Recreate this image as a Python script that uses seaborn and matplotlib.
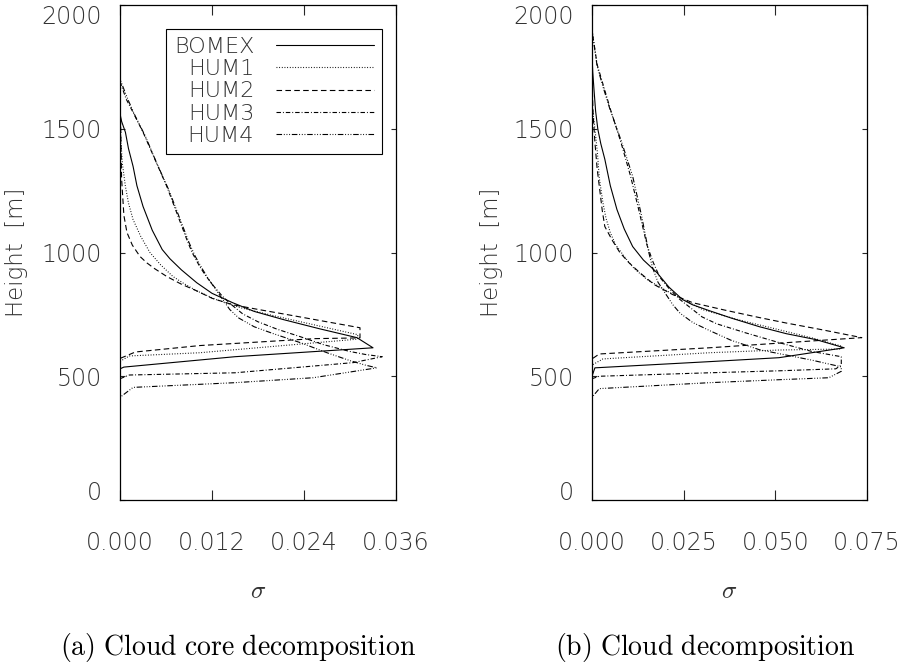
import matplotlib
matplotlib.use("Agg")
import matplotlib.pyplot as plt
import seaborn as sns
import pandas as pd

# =========================
# DATA (sigma, height [m])
# =========================
runs = ["BOMEX", "HUM1", "HUM2", "HUM3", "HUM4"]

# (a) cloud core decomposition
core_bomex_s = [0, 0, 0.0005, 0.015, 0.0330, 0.0309, 0.0260, 0.0213, 0.0175, 0.0147, 0.0120, 0.0100,
                0.0080, 0.0065, 0.0055, 0.0042, 0.0030, 0.0022, 0.0017, 0.0011, 0.0007, 0.0002, 0, 0]
core_bomex_z = [0, 530, 537, 579, 615, 656, 692, 729, 762, 797, 835, 878,
                930, 975, 1012, 1090, 1186, 1270, 1348, 1420, 1486, 1530, 1560, 1990]
core_hum1_s = [0, 0, 0.0012, 0.0104, 0.031, 0.031, 0.025, 0.0200, 0.0157, 0.0125, 0.0100, 0.0083, 0.0069,
               0.0053, 0.0039, 0.0027, 0.0017, 0.0011, 0.0007, 0.0003, 0.0001, 0, 0]
core_hum1_z = [0, 560, 582, 595, 650, 668, 710, 745, 777, 810, 845, 875, 903,
               950, 1000, 1065, 1133, 1200, 1267, 1360, 1457, 1640, 1990]
core_hum2_s = [0, 0, 0.002, 0.0104, 0.0254, 0.0313, 0.0313, 0.027, 0.022, 0.0180, 0.0147, 0.0120, 0.0100,
               0.0080, 0.0061, 0.0045, 0.0035, 0.0026, 0.0016, 0.0009, 0.0005, 0.0002, 0, 0]
core_hum2_z = [0, 572, 598, 624, 652, 655, 696, 720, 748, 770, 789, 815, 845,
               872, 903, 935, 958, 984, 1030, 1081, 1150, 1300, 1650, 1990]
core_hum3_s = [0, 0, 0.0012, 0.015, 0.0304, 0.0342, 0.032, 0.030, 0.0265, 0.0235, 0.0205, 0.018, 0.016,
               0.0145, 0.0133, 0.0122, 0.0112, 0.0104, 0.0094, 0.0087, 0.0074, 0.0061, 0.0045, 0.003,
               0.0018, 0.0008, 0, 0]
core_hum3_z = [0, 490, 505, 514, 555, 579, 588, 600, 628, 660, 690, 720, 752,
               790, 825, 865, 905, 943, 1000, 1053, 1160, 1267, 1380, 1486,
               1560, 1620, 1690, 1990]
core_hum4_s = [0, 0, 0.0017, 0.015, 0.0252, 0.0335, 0.032, 0.030, 0.027, 0.0235, 0.020, 0.0175, 0.0155,
               0.0143, 0.0134, 0.0125, 0.0116, 0.0108, 0.0098, 0.009, 0.0077, 0.0064, 0.0048, 0.0033,
               0.002, 0.001, 0, 0]
core_hum4_z = [0, 415, 455, 474, 494, 534, 545, 563, 595, 636, 672, 700, 735,
               770, 810, 850, 890, 930, 985, 1040, 1145, 1250, 1360, 1470,
               1550, 1620, 1700, 1990]

# (b) cloud decomposition
cld_bomex_s = [0, 0, 0.0008, 0.032, 0.051, 0.0688, 0.0611, 0.053, 0.0457, 0.038, 0.032, 0.0274, 0.0247,
               0.021, 0.0177, 0.0140, 0.0111, 0.0088, 0.0068, 0.0050, 0.0035, 0.0024, 0.0016, 0.0010,
               0.0006, 0.0002, 0, 0]
cld_bomex_z = [0, 500, 534, 559, 575, 615, 648, 672, 700, 735, 765, 789, 810,
               860, 919, 970, 1024, 1095, 1174, 1270, 1377, 1440, 1498, 1570,
               1648, 1730, 1800, 1990]
cld_hum1_s = [0, 0, 0.003, 0.032, 0.051, 0.068, 0.068, 0.060, 0.051, 0.040, 0.0302, 0.025, 0.020, 0.015,
              0.0115, 0.009, 0.0065, 0.005, 0.0038, 0.003, 0.002, 0.0015, 0.0008, 0, 0]
cld_hum1_z = [0, 545, 570, 595, 606, 610, 622, 655, 688, 728, 769, 810, 848, 891,
              935, 980, 1030, 1080, 1140, 1200, 1300, 1400, 1500, 1600, 1990]
cld_hum2_s = [0, 0, 0.002, 0.032, 0.0736, 0.062, 0.053, 0.0457, 0.036, 0.0275, 0.022, 0.017, 0.013,
              0.0100, 0.0076, 0.0055, 0.0035, 0.0028, 0.0022, 0.0014, 0.0008, 0.0003, 0, 0]
cld_hum2_z = [0, 570, 590, 615, 656, 690, 715, 737, 768, 797, 830, 870, 919,
              960, 1000, 1050, 1105, 1170, 1243, 1340, 1445, 1560, 1700, 1990]
cld_hum3_s = [0, 0, 0.002, 0.032, 0.051, 0.0665, 0.068, 0.068, 0.060, 0.051, 0.042, 0.034, 0.030, 0.027,
              0.024, 0.021, 0.0185, 0.0167, 0.0150, 0.0128, 0.0105, 0.0078, 0.005, 0.003, 0.0014, 0, 0]
cld_hum3_z = [0, 490, 500, 514, 522, 530, 545, 579, 600, 636, 675, 712, 740, 775,
              810, 855, 900, 960, 1030, 1170, 1310, 1450, 1580, 1680, 1760, 1900, 1990]
cld_hum4_s = [0, 0, 0.002, 0.032, 0.051, 0.0646, 0.068, 0.068, 0.060, 0.0457, 0.038, 0.032, 0.0275,
              0.024, 0.022, 0.020, 0.018, 0.0165, 0.0155, 0.0135, 0.0111, 0.008, 0.0049, 0.003,
              0.0014, 0, 0]
cld_hum4_z = [0, 415, 450, 474, 486, 494, 520, 538, 565, 607, 645, 685, 717,
              755, 790, 835, 880, 940, 1000, 1150, 1308, 1450, 1579, 1670,
              1753, 1900, 1990]

core_xticks = [0.0, 0.012, 0.024, 0.036]
core_xticklabels = ["0.000", "0.012", "0.024", "0.036"]
cld_xticks = [0.0, 0.025, 0.050, 0.075]
cld_xticklabels = ["0.000", "0.025", "0.050", "0.075"]
yticks = [0, 500, 1000, 1500, 2000]
yticklabels = ["0", "500", "1000", "1500", "2000"]
captions = [r"$\mathrm{(a)\ Cloud\ core\ decomposition}$",
            r"$\mathrm{(b)\ Cloud\ decomposition}$"]

# line styles (IDL linestyles 0..4)
dash_styles = {
    "BOMEX": "",
    "HUM1": (0.8, 1.6),
    "HUM2": (5, 3),
    "HUM3": (4, 1.8, 0.8, 1.8),
    "HUM4": (5, 1.6, 0.8, 1.6, 0.8, 1.6, 0.8, 1.6),
}


def make_frame(series):
    parts = []
    for run, (s, z) in zip(runs, series):
        parts.append(pd.DataFrame({"run": run, "sigma": s, "z": z}))
    return pd.concat(parts, ignore_index=True)


core_df = make_frame([(core_bomex_s, core_bomex_z), (core_hum1_s, core_hum1_z),
                      (core_hum2_s, core_hum2_z), (core_hum3_s, core_hum3_z),
                      (core_hum4_s, core_hum4_z)])
cld_df = make_frame([(cld_bomex_s, cld_bomex_z), (cld_hum1_s, cld_hum1_z),
                     (cld_hum2_s, cld_hum2_z), (cld_hum3_s, cld_hum3_z),
                     (cld_hum4_s, cld_hum4_z)])

sns.set_theme(style="white")
plt.rcParams["font.family"] = ["DejaVu Sans"]
plt.rcParams["font.weight"] = "light"
plt.rcParams["axes.labelweight"] = "light"
plt.rcParams["mathtext.fontset"] = "cm"
txt_col = "#333333"
fs = 17

fig = plt.figure(figsize=(9.06, 6.68), dpi=100)
ax_a = fig.add_axes([0.1325, 0.2515, 0.3046, 0.741])
ax_b = fig.add_axes([0.6534, 0.2515, 0.3035, 0.741])

panels = [
    (ax_a, core_df, core_xticks, core_xticklabels, -0.335, captions[0], 0.263),
    (ax_b, cld_df, cld_xticks, cld_xticklabels, -0.325, captions[1], 0.778),
]

for ax, df, xt, xtl, ylab_x, cap, cap_x in panels:
    sns.lineplot(data=df, x="sigma", y="z", style="run", style_order=runs,
                 dashes=dash_styles, estimator=None, sort=False, color="black",
                 linewidth=0.8, legend=False, ax=ax)
    ax.set_xlim(xt[0], xt[-1])
    ax.set_ylim(0, 2000)
    ax.set_xticks(xt)
    ax.set_xticklabels(xtl)
    ax.set_yticks(yticks)
    ax.set_yticklabels(yticklabels)
    ax.tick_params(axis="x", direction="in", length=7, width=0.8, pad=22,
                   top=True, bottom=True, labelsize=fs, labelcolor=txt_col)
    ax.tick_params(axis="y", direction="in", length=3.6, width=0.8, pad=13,
                   left=True, right=True, labelsize=fs, labelcolor=txt_col)
    ylabs = ax.get_yticklabels()
    ylabs[-1].set_va("top")
    ylabs[0].set_va("baseline")
    for sp in ax.spines.values():
        sp.set_color("black")
        sp.set_linewidth(0.9)
    ax.set_xlabel(r"$\sigma$", fontsize=fs + 1, color=txt_col)
    ax.xaxis.set_label_coords(0.5, -0.16)
    ax.set_ylabel("Height  [m]", fontsize=fs - 0.5, color=txt_col)
    ax.yaxis.set_label_coords(ylab_x, 0.5)
    # panel caption under the figure
    fig.text(cap_x, 0.031, cap, ha="center", va="center", fontsize=20,
             color="black")

leg = ax_a.legend(ax_a.get_lines(), runs, loc="upper right",
                  bbox_to_anchor=(0.949, 0.951), borderaxespad=0,
                  fontsize=16, labelspacing=0.1, handlelength=4.4,
                  handletextpad=1.0, borderpad=0.35, markerfirst=False,
                  frameon=True, fancybox=False, edgecolor="black", framealpha=1)
leg.get_frame().set_linewidth(0.8)
for t in leg.get_texts():
    t.set_color(txt_col)

fig.savefig("out.png", dpi=100)
